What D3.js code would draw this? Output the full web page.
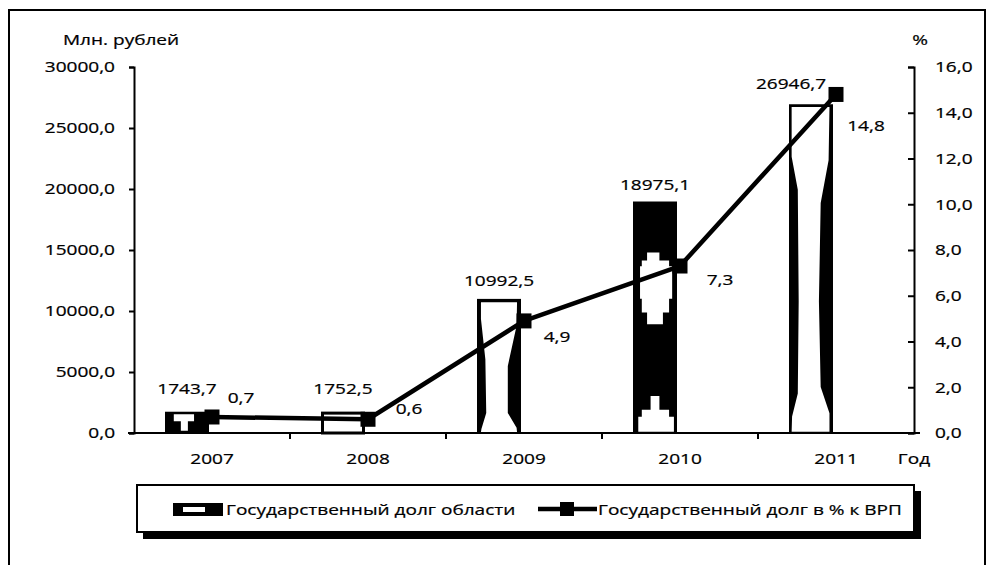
<!DOCTYPE html>
<html><head><meta charset="utf-8">
<script src="https://cdn.jsdelivr.net/npm/d3@7"></script>
<style>
html,body{margin:0;padding:0;background:#fff;}
svg{display:block;font-family:"Open Sans",sans-serif;}
svg text{stroke:#000;stroke-width:0.22px;}
</style></head>
<body>
<script>
// ---- data ----
const years = ["2007","2008","2009","2010","2011"];
const debt = [1743.7, 1752.5, 10992.5, 18975.1, 26946.7];
const debtPct = [0.7, 0.6, 4.9, 7.3, 14.8];
const leftTicks = [0,5000,10000,15000,20000,25000,30000];
const rightTicks = [0,2,4,6,8,10,12,14,16];
const seriesNames = ["Государственный долг области","Государственный долг в % к ВРП"];
const leftTitle = "Млн. рублей", rightTitle = "%", xTitle = "Год";

// ---- layout ----
const W = 993, H = 565, SX = 1.27, FS = 15;
const X0 = 134, X1 = 914, Y0 = 433, Y1 = 67;
const barW = 44, barShift = -25;
const barStyle = ["darkT","frame","vase","darkBlob","vase2"];
const barLblOff = [[0,-18],[0,-18],[0,-13],[0,-12],[-20,-15]];
const pctLblOff = [[29,-19],[41,-10],[33,16],[40,14],[30,32]];

const svg = d3.select("body").append("svg").attr("width",W).attr("height",H);
const fmt = v => d3.format(".1f")(v).replace(".",",");

function txt(x,y,s,anchor){
  return svg.append("text").attr("transform",`translate(${x},${y}) scale(${SX},1)`)
    .attr("text-anchor",anchor||"middle").attr("font-size",FS).attr("fill","#000").text(s);
}

// frame
svg.append("rect").attr("x",9).attr("y",10).attr("width",976).attr("height",600)
  .attr("fill","none").attr("stroke","#000").attr("stroke-width",2);

const x = d3.scaleBand().domain(years).range([X0,X1]).paddingInner(0).paddingOuter(0);
const yL = d3.scaleLinear().domain([0,30000]).range([Y0,Y1]);
const yR = d3.scaleLinear().domain([0,16]).range([Y0,Y1]);
const cx = d => x(d)+x.bandwidth()/2;

// bars
const bars = svg.append("g");
years.forEach((yr,i)=>{
  const bx = cx(yr)+barShift-barW/2, by = yL(debt[i]), bh = Y0-by, w = barW;
  const g = bars.append("g");
  const st = barStyle[i];
  const P = pts => pts.map(p=>[bx+p[0]*w, by+p[1]*bh]);
  const poly = (pts,fill)=>g.append("path").attr("d",d3.line()(P(pts))+"Z").attr("fill",fill);
  if(st==="frame"){
    g.append("rect").attr("x",bx+1.5).attr("y",by+1.5).attr("width",w-3).attr("height",bh-1.5)
      .attr("fill","#fff").attr("stroke","#000").attr("stroke-width",3);
  } else if(st==="vase"){
    g.append("rect").attr("x",bx).attr("y",by).attr("width",w).attr("height",bh).attr("fill","#000");
    poly([[0.09,0.025],[0.09,0.15],[0.19,0.45],[0.21,0.85],[0.1,0.97],[0.09,0.995],
          [0.91,0.995],[0.9,0.96],[0.7,0.85],[0.7,0.5],[0.9,0.2],[0.91,0.025]],"#fff");
  } else if(st==="vase2"){
    g.append("rect").attr("x",bx).attr("y",by).attr("width",w).attr("height",bh).attr("fill","#000");
    poly([[0.06,0.008],[0.06,0.16],[0.2,0.26],[0.22,0.6],[0.2,0.88],[0.07,0.95],[0.06,0.996],
          [0.92,0.996],[0.92,0.94],[0.72,0.86],[0.68,0.6],[0.72,0.3],[0.9,0.17],[0.92,0.008]],"#fff");
  } else if(st==="darkT"){
    g.append("rect").attr("x",bx).attr("y",by).attr("width",w).attr("height",bh).attr("fill","#000");
    poly([[0.2,0.12],[0.66,0.12],[0.66,0.45],[0.52,0.45],[0.52,0.9],[0.36,0.9],[0.36,0.45],[0.2,0.45]],"#fff");
  } else {
    g.append("rect").attr("x",bx).attr("y",by).attr("width",w).attr("height",bh).attr("fill","#000");
    poly([[0.32,0.22],[0.6,0.22],[0.6,0.255],[0.82,0.255],[0.82,0.28],[0.89,0.28],[0.89,0.42],
          [0.82,0.42],[0.82,0.48],[0.68,0.48],[0.68,0.53],[0.32,0.53],[0.32,0.48],[0.2,0.48],
          [0.2,0.42],[0.16,0.42],[0.16,0.28],[0.2,0.28],[0.2,0.255],[0.32,0.255]],"#fff");
    poly([[0.4,0.84],[0.6,0.84],[0.6,0.9],[0.82,0.9],[0.82,0.93],[0.93,0.93],[0.93,0.995],
          [0.12,0.995],[0.12,0.93],[0.2,0.93],[0.2,0.9],[0.4,0.9]],"#fff");
  }
});
years.forEach((yr,i)=>{
  const bx = cx(yr)+barShift;
  txt(bx+barLblOff[i][0], yL(debt[i])+barLblOff[i][1], debt[i].toFixed(1).replace(".",","));
});

// axes
const axL = svg.append("g").attr("transform",`translate(${X0},0)`)
  .call(d3.axisLeft(yL).tickValues(leftTicks).tickSize(5).tickPadding(0).tickFormat(fmt));
const axR = svg.append("g").attr("transform",`translate(${X1},0)`)
  .call(d3.axisRight(yR).tickValues(rightTicks).tickSize(-6).tickPadding(0).tickFormat(fmt));
[axL,axR].forEach(a=>{a.select(".domain").attr("stroke","#000").attr("stroke-width",2);
  a.selectAll(".tick line").attr("stroke","#000").attr("stroke-width",2);
  a.selectAll("text").attr("font-size",FS).attr("font-family","Open Sans").attr("fill","#000");});
axL.selectAll("text").attr("x",-19/SX).attr("transform",`scale(${SX},1)`);
axR.selectAll("text").attr("x",21/SX).attr("transform",`scale(${SX},1)`);

// x axis
const xa = svg.append("g");
xa.append("line").attr("x1",X0-6).attr("x2",X1+6).attr("y1",Y0).attr("y2",Y0).attr("stroke","#000").attr("stroke-width",2);
years.slice(1).forEach(yr=>{
  xa.append("line").attr("x1",x(yr)).attr("x2",x(yr)).attr("y1",Y0).attr("y2",Y0+6).attr("stroke","#000").attr("stroke-width",2);
});
years.forEach(yr=>txt(cx(yr),Y0+31,yr));
txt(X1,Y0+31,xTitle);
txt(63,45,leftTitle,"start");
txt(920,45,rightTitle);

// line
svg.append("path").datum(debtPct)
  .attr("d",d3.line().x((d,i)=>cx(years[i])).y(d=>yR(d)))
  .attr("fill","none").attr("stroke","#000").attr("stroke-width",4.5).attr("stroke-linejoin","round");
debtPct.forEach((v,i)=>{
  svg.append("rect").attr("x",cx(years[i])-7.5).attr("y",yR(v)-7.5).attr("width",15).attr("height",15).attr("fill","#000");
  txt(cx(years[i])+pctLblOff[i][0], yR(v)+pctLblOff[i][1]+5, fmt(v));
});

// legend
svg.append("rect").attr("x",143).attr("y",491).attr("width",778).attr("height",48).attr("fill","#000");
svg.append("rect").attr("x",137).attr("y",485).attr("width",777).attr("height",47)
  .attr("fill","#fff").attr("stroke","#000").attr("stroke-width",2);
svg.append("rect").attr("x",173).attr("y",503).attr("width",50).attr("height",13).attr("fill","#000");
svg.append("rect").attr("x",183).attr("y",507).attr("width",22).attr("height",5).attr("fill","#fff");
txt(226,515,seriesNames[0],"start");
svg.append("line").attr("x1",538).attr("x2",597).attr("y1",509).attr("y2",509).attr("stroke","#000").attr("stroke-width",4.5);
svg.append("rect").attr("x",560).attr("y",502).attr("width",14).attr("height",14).attr("fill","#000");
txt(598,515,seriesNames[1],"start");
</script>
</body></html>
